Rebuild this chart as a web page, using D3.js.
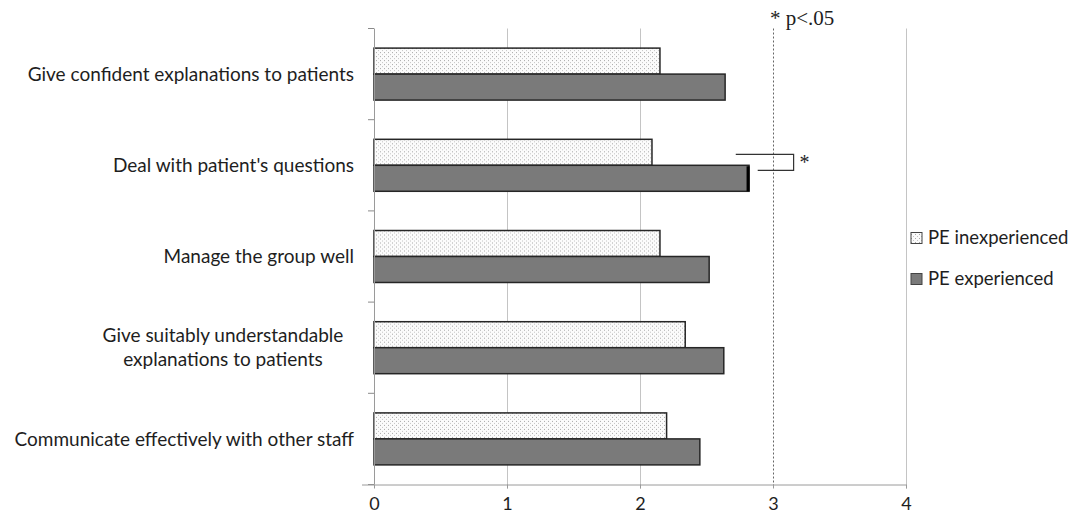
<!DOCTYPE html>
<html>
<head>
<meta charset="utf-8">
<script src="https://cdn.jsdelivr.net/npm/d3@7"></script>
<style>
  html, body { margin: 0; padding: 0; background: #fff; }
  svg { display: block; }
</style>
</head>
<body>
<svg id="chart" width="1072" height="517"></svg>
<script>
// Self-rated teaching skills, mean scores by prior PE experience
const categories = [
  "Give confident explanations to patients",
  "Deal with patient's questions",
  "Manage the group well",
  "Give suitably understandable|explanations to patients",
  "Communicate effectively with other staff"
];
const seriesNames = ["PE inexperienced", "PE experienced"];
const inexperienced = [2.15, 2.09, 2.15, 2.34, 2.20];
const experienced   = [2.64, 2.82, 2.52, 2.63, 2.45];
const xTicks = [0, 1, 2, 3, 4];
const significant = [false, true, false, false, false];
const sigNote = "* p<.05";
const sigThreshold = 3;

const svg = d3.select("#chart");
const labelFont = "Lato, 'Open Sans', sans-serif";
const ink = "#1e1e1e";

const x = d3.scaleLinear().domain([0, 4]).range([374, 906]);
const y = d3.scaleBand().domain(categories).range([28.5, 484.5])
  .paddingInner(0.43).paddingOuter(0.215);
const ySub = d3.scaleBand().domain(seriesNames).range([0, y.bandwidth()]);

const rows = categories.map((c, i) => ({
  cat: c, i,
  values: [
    { s: seriesNames[0], v: inexperienced[i] },
    { s: seriesNames[1], v: experienced[i] }
  ]
}));

// dotted fill for the inexperienced bars
const defs = svg.append("defs");
const pat = defs.append("pattern").attr("id", "dots")
  .attr("patternUnits", "userSpaceOnUse").attr("width", 4).attr("height", 4);
pat.append("rect").attr("width", 4).attr("height", 4).attr("fill", "#fbfbfb");
pat.append("rect").attr("x", 0).attr("y", 0).attr("width", 1).attr("height", 1).attr("fill", "#a8a8a8");
pat.append("rect").attr("x", 2).attr("y", 2).attr("width", 1).attr("height", 1).attr("fill", "#c4c4c4");

const fills = { "PE inexperienced": "url(#dots)", "PE experienced": "#7a7a7a" };

const plotTop = y.range()[0], plotBottom = y.range()[1];

// vertical gridlines
svg.append("g").selectAll("line").data(xTicks.filter(t => t > 0)).join("line")
  .attr("x1", d => x(d) + 0.5).attr("x2", d => x(d) + 0.5)
  .attr("y1", plotTop).attr("y2", plotBottom + 4)
  .attr("stroke", d => d === sigThreshold ? "#666" : "#c4c4c4")
  .attr("stroke-width", 1)
  .attr("stroke-dasharray", d => d === sigThreshold ? "2,2" : null);

// bars
const groups = svg.append("g").selectAll("g").data(rows).join("g")
  .attr("transform", d => `translate(0,${y(d.cat)})`);

groups.selectAll("rect").data(d => d.values).join("rect")
  .attr("x", x(0))
  .attr("y", d => ySub(d.s))
  .attr("width", d => x(d.v) - x(0))
  .attr("height", ySub.bandwidth())
  .attr("fill", d => fills[d.s])
  .attr("stroke", "#262626")
  .attr("stroke-width", 1.5);

// significance bracket between the two bars of a flagged item
rows.filter(r => significant[r.i]).forEach(r => {
  const g = svg.append("g").attr("transform", `translate(0,${y(r.cat)})`);
  const yTop = ySub(seriesNames[0]) + ySub.bandwidth() / 2 + 2;
  const yBot = ySub(seriesNames[1]) + 5;
  const xr = x(r.values[1].v);
  g.append("line").attr("x1", xr - 1).attr("x2", xr - 1)
    .attr("y1", ySub(seriesNames[1]) + 1).attr("y2", ySub(seriesNames[1]) + ySub.bandwidth())
    .attr("stroke", "#000").attr("stroke-width", 3);
  const bx = x(3.155);
  g.append("path")
    .attr("d", `M${x(2.72)},${yTop}H${bx}V${yBot}H${x(2.885)}`)
    .attr("fill", "none").attr("stroke", "#333").attr("stroke-width", 1.2);
  g.append("text").attr("x", bx + 6).attr("y", yBot - 1)
    .attr("font-family", "'Liberation Serif', 'DejaVu Serif', serif")
    .attr("font-size", 20).attr("fill", ink).text("*");
});

// y axis line with ticks at category boundaries
svg.append("line").attr("x1", x(0) + 0.5).attr("x2", x(0) + 0.5)
  .attr("y1", plotTop).attr("y2", plotBottom)
  .attr("stroke", "#9a9a9a").attr("stroke-width", 1);
const bounds = d3.range(categories.length + 1).map(i => plotTop + i * y.step());
svg.append("g").selectAll("line").data(bounds).join("line")
  .attr("x1", x(0) - 6).attr("x2", x(0))
  .attr("y1", d => d).attr("y2", d => d)
  .attr("stroke", "#8a8a8a").attr("stroke-width", 1);

// x axis
const xAxis = svg.append("g").attr("transform", `translate(0,${plotBottom})`)
  .call(d3.axisBottom(x).tickValues(xTicks).tickSize(4).tickPadding(9).tickFormat(d3.format("d")));
xAxis.select(".domain").attr("stroke", "#9a9a9a").attr("d", `M${x(0) - 12},0.5H${x(4)}`);
xAxis.selectAll(".tick line").attr("stroke", "#9a9a9a");
xAxis.selectAll("text").attr("font-family", labelFont).attr("font-size", 18).attr("fill", ink);

// category labels
svg.append("g").selectAll("text").data(rows).join("text")
  .attr("font-family", labelFont).attr("font-size", 19).attr("fill", ink)
  .each(function (d) {
    const lines = d.cat.split("|");
    const cy = y(d.cat) + y.bandwidth() / 2;
    const t = d3.select(this);
    if (lines.length === 1) {
      t.attr("x", 354).attr("y", cy).attr("dy", "0.35em").attr("text-anchor", "end").text(lines[0]);
    } else {
      t.attr("text-anchor", "middle");
      lines.forEach((ln, k) => {
        t.append("tspan").attr("x", 223)
          .attr("y", cy + (k - (lines.length - 1) / 2) * 24)
          .attr("dy", "0.35em").text(ln);
      });
    }
  });

// significance note
svg.append("text").attr("x", x(sigThreshold) - 3).attr("y", 25)
  .attr("font-family", "'Liberation Serif', 'DejaVu Serif', serif")
  .attr("font-size", 21).attr("fill", ink).text(sigNote);

// legend
const legend = svg.append("g").attr("transform", "translate(911,238)");
const li = legend.selectAll("g").data(seriesNames).join("g")
  .attr("transform", (d, i) => `translate(0,${i * 41})`);
li.append("rect").attr("x", 0).attr("y", -5.5).attr("width", 11).attr("height", 11)
  .attr("fill", d => fills[d]).attr("stroke", "#444").attr("stroke-width", 1);
li.append("text").attr("x", 17).attr("y", 0).attr("dy", "0.35em")
  .attr("font-family", labelFont).attr("font-size", 18.5).attr("fill", ink)
  .text(d => d);
</script>
</body>
</html>
